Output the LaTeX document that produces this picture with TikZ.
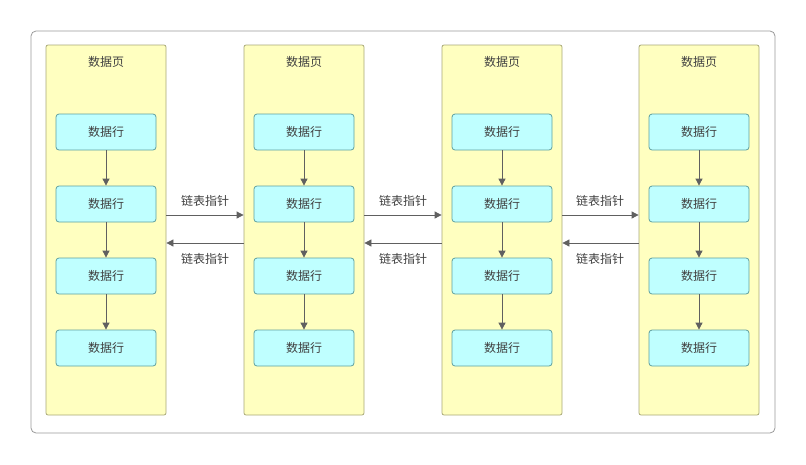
\documentclass[tikz,border=0pt]{standalone}
\usepackage{fontspec}
\newfontfamily\cjk{Noto Sans CJK SC}
\usetikzlibrary{positioning,arrows.meta}
\definecolor{pagefill}{HTML}{FFFFC0}
\definecolor{pageline}{HTML}{A8A878}
\definecolor{rowfill}{HTML}{BFFFFF}
\definecolor{rowline}{HTML}{5F9F9F}
\definecolor{arrowc}{HTML}{606060}
\tikzset{
  pagebox/.style={draw=pageline, line width=0.8pt, fill=pagefill, minimum width=120pt, minimum height=370pt, rounded corners=2pt},
  rowbox/.style={draw=rowline, line width=0.8pt, fill=rowfill, minimum width=100pt, minimum height=36pt, rounded corners=3pt, font=\cjk\fontsize{12}{14}\selectfont, text=black!75},
  link/.style={draw=arrowc, line width=0.8pt, -{Triangle[length=7pt,width=7pt]}},
  lbl/.style={font=\cjk\fontsize{12}{14}\selectfont, text=black!75}
}
\begin{document}
\begin{tikzpicture}[x=1pt,y=-1pt]
    \useasboundingbox (0,0) rectangle (806,464);
    \draw[black!40, line width=0.8pt, rounded corners=5pt] (31,31) rectangle (775,433);

    \foreach \i/\x in {1/106, 2/304, 3/502, 4/699} {
        \node[pagebox] (p\i) at (\x, 230) {};
        \node[lbl] (t\i) at (\x, 62) {数据页};
        \foreach \j/\y in {1/132, 2/204, 3/276, 4/348} {
            \node[rowbox] (r\i\j) at (\x, \y) {数据行};
        }
        \draw[link] (r\i1) -- (r\i2);
        \draw[link] (r\i2) -- (r\i3);
        \draw[link] (r\i3) -- (r\i4);
    }

    \foreach \a/\b/\m in {1/2/205, 2/3/403, 3/4/600} {
        \coordinate (fa\a) at (p\a.east |- 0,215);
        \coordinate (fb\a) at (p\b.west |- 0,215);
        \coordinate (ba\a) at (p\a.east |- 0,243);
        \coordinate (bb\a) at (p\b.west |- 0,243);
        \draw[link] (fa\a) -- (fb\a);
        \draw[link] (bb\a) -- (ba\a);
        \node[lbl] (fl\a) at (\m, 201) {链表指针};
        \node[lbl] (bl\a) at (\m, 259) {链表指针};
    }
\end{tikzpicture}
\end{document}
